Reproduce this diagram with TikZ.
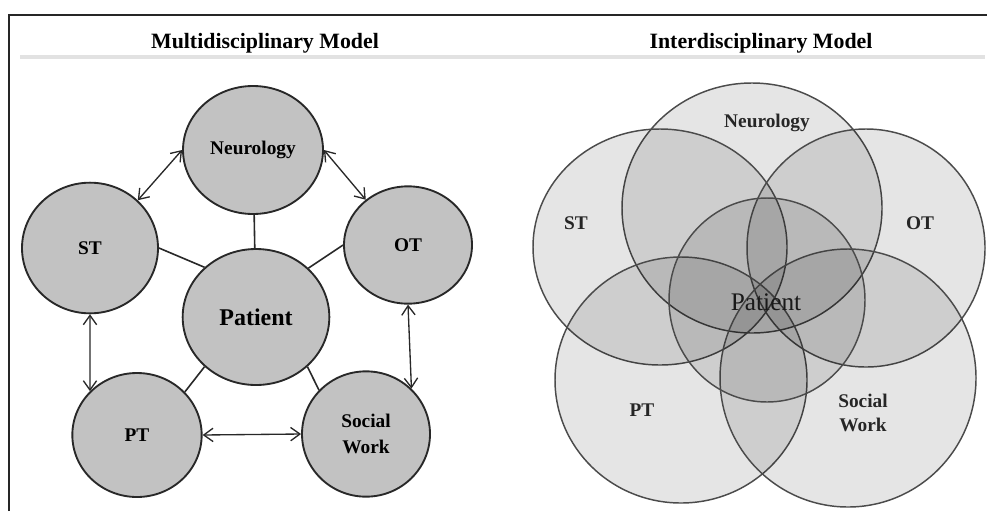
\documentclass[tikz,border=0pt]{standalone}
\usepackage{fontspec}
\setmainfont{Liberation Serif}
\usetikzlibrary{arrows.meta,shapes.geometric}
\definecolor{discfill}{RGB}{194,194,194}
\definecolor{discline}{RGB}{40,40,40}
\definecolor{vennline}{RGB}{75,75,75}
\definecolor{rulegray}{RGB}{226,226,226}

\begin{document}
\begin{tikzpicture}[x=0.75pt, y=-0.75pt]
    \tikzstyle{disc} = [ellipse, draw=discline, fill=discfill, line width=1.4pt, inner sep=0pt,
                        align=center, font=\fontsize{14.5}{19.5}\selectfont\bfseries]
    \tikzstyle{link} = [draw=discline, line width=1.2pt]
    \tikzstyle{both} = [draw=discline, line width=1pt,
                        {Straight Barb[length=7pt,width=10pt]}-{Straight Barb[length=7pt,width=10pt]}]
    \tikzstyle{venn} = [draw=vennline, line width=1.1pt, fill=black, fill opacity=0.1]
    \tikzstyle{title} = [anchor=base, font=\fontsize{16.4}{20}\selectfont\bfseries]
    \tikzstyle{tag} = [align=center, text=black!85, font=\fontsize{14.5}{17.5}\selectfont\bfseries]

    \useasboundingbox (0,0) rectangle (987,511);

    % Frame and headings
    \draw[line width=1.5pt, black!85] (9,511) -- (9,15) -- (987,15);
    \draw[line width=2.5pt, rulegray] (20,57) -- (985,57);
    \node[title] (multi) at (265,48) {Multidisciplinary Model};
    \node[title] (inter) at (761,48) {Interdisciplinary Model};

    % Multidisciplinary discs
    \node[disc, minimum width=105pt, minimum height=96pt] (neuro) at (253,150) {Neurology};
    \node[disc, minimum width=102pt, minimum height=98pt] (st) at (90,248) {ST};
    \node[disc, minimum width=96pt, minimum height=88pt] (ot) at (408,245) {OT};
    \node[disc, minimum width=110pt, minimum height=102pt, font=\fontsize{18}{20}\selectfont\bfseries]
        (patient) at (256,317) {Patient};
    \node[disc, minimum width=97pt, minimum height=93pt] (pt) at (137,435) {PT};
    \node[disc, minimum width=96pt, minimum height=94pt] (sw) at (366,434) {Social\\Work};

    % Patient links
    \draw[link] (neuro) -- (patient);
    \draw[link] (st.east) -- (patient.136);
    \draw[link] (ot.west) -- (patient.43);
    \draw[link] (pt.42) -- (patient.224);
    \draw[link] (sw.137) -- (patient.316);

    % Discipline arrows
    \draw[both] (st.45) -- (neuro.180);
    \draw[both] (neuro.0) -- (ot.133);
    \draw[both] (st.south) -- (pt.137);
    \draw[both] (ot.south) -- (sw.45);
    \draw[both] (pt.east) -- (sw.west);

    % Interdisciplinary overlap
    \draw[venn] (752,208) ellipse [x radius=130, y radius=125];
    \draw[venn] (660,247) ellipse [x radius=127, y radius=118];
    \draw[venn] (866,248) ellipse [x radius=119, y radius=119];
    \draw[venn] (681,380) ellipse [x radius=126, y radius=123];
    \draw[venn] (848,378) ellipse [x radius=128, y radius=129];
    \draw[venn] (767,300) ellipse [x radius=98, y radius=102];

    \node[tag] (vneuro) at (767,123) {Neurology};
    \node[tag] (vst) at (576,223) {ST};
    \node[tag] (vot) at (920,223) {OT};
    \node[tag, font=\fontsize{19}{20}\selectfont, text=black!90] (vpatient) at (766,302) {Patient};
    \node[tag] (vpt) at (642,410) {PT};
    \node[tag] (vsw) at (863,413) {Social\\Work};
\end{tikzpicture}
\end{document}
